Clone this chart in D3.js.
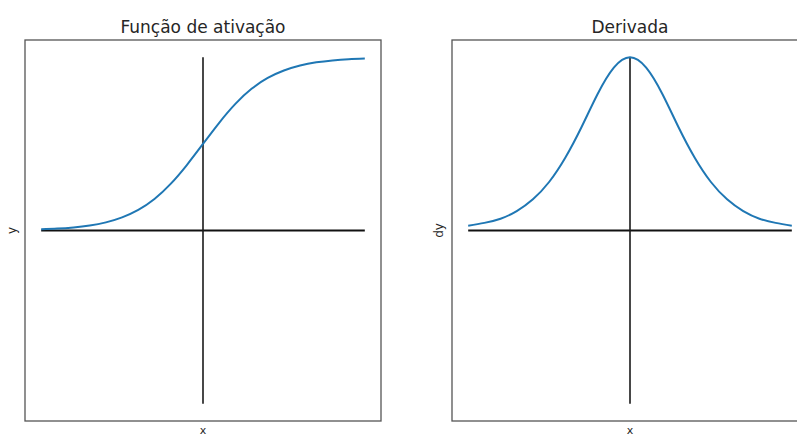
<!DOCTYPE html>
<html>
<head>
<meta charset="utf-8">
<script src="https://cdn.jsdelivr.net/npm/d3@7"></script>
<style>
html,body{margin:0;padding:0;background:#fff;}
svg{display:block;}
text{font-family:"DejaVu Sans",sans-serif;fill:#262626;}
</style>
</head>
<body>
<svg id="chart" width="797" height="437"></svg>
<script>
// ---- data ----
const xValues = [-5,-4.5,-4,-3.5,-3,-2.5,-2,-1.5,-1,-0.5,0,0.5,1,1.5,2,2.5,3,3.5,4,4.5,5];
const activationValues = [0.007,0.011,0.018,0.029,0.047,0.076,0.119,0.182,0.269,0.378,0.5,0.622,0.731,0.818,0.881,0.924,0.953,0.971,0.982,0.989,0.993];
const derivativeValues = [0.007,0.011,0.017,0.028,0.045,0.070,0.105,0.149,0.197,0.235,0.25,0.235,0.197,0.149,0.105,0.070,0.045,0.028,0.017,0.011,0.007];
const panelTitles = ["Função de ativação", "Derivada"];
const yLabels = ["y", "dy"];
const xLabel = "x";
const xAxisExtent = [-5, 5];
const yAxisExtents = [[-1, 1], [-0.25, 0.25]];
const seriesList = [activationValues, derivativeValues];

const svg = d3.select("#chart");
const panels = [
  {left: 25, right: 381},
  {left: 452, right: 808}
];
const boxTop = 40, boxBottom = 421;

panels.forEach((p, i) => {
  const xs = xAxisExtent, ys = yAxisExtents[i];
  const xPad = (xs[1]-xs[0])*0.05, yPad = (ys[1]-ys[0])*0.05;
  const x = d3.scaleLinear().domain([xs[0]-xPad, xs[1]+xPad]).range([p.left, p.right]);
  const y = d3.scaleLinear().domain([ys[0]-yPad, ys[1]+yPad]).range([boxBottom, boxTop]);
  const g = svg.append("g");

  // horizontal axis line
  g.append("line")
    .attr("x1", x(xs[0])).attr("x2", x(xs[1]))
    .attr("y1", y(0)).attr("y2", y(0))
    .attr("stroke", "#111").attr("stroke-width", 2);
  // vertical axis line
  g.append("line")
    .attr("x1", x(0)).attr("x2", x(0))
    .attr("y1", y(ys[0])).attr("y2", y(ys[1]))
    .attr("stroke", "#1a1a1a").attr("stroke-width", 1.6);

  const data = xValues.map((v, k) => [v, seriesList[i][k]]);
  g.append("path")
    .datum(data)
    .attr("fill", "none")
    .attr("stroke", "#1f77b4")
    .attr("stroke-width", 2)
    .attr("d", d3.line().x(d => x(d[0])).y(d => y(d[1])).curve(d3.curveNatural));

  // frame
  g.append("rect")
    .attr("x", p.left).attr("y", boxTop)
    .attr("width", p.right - p.left).attr("height", boxBottom - boxTop)
    .attr("fill", "none").attr("stroke", "#555").attr("stroke-width", 1.3);

  // title
  g.append("text")
    .attr("x", (p.left + p.right)/2).attr("y", boxTop - 7)
    .attr("text-anchor", "middle").attr("font-size", 17)
    .text(panelTitles[i]);
  // x label
  g.append("text")
    .attr("x", (p.left + p.right)/2).attr("y", boxBottom + 13)
    .attr("text-anchor", "middle").attr("font-size", 11)
    .text(xLabel);
  // y label
  g.append("text")
    .attr("transform", `translate(${p.left - 9},${(boxTop+boxBottom)/2}) rotate(-90)`)
    .attr("text-anchor", "middle").attr("font-size", 12)
    .text(yLabels[i]);
});
</script>
</body>
</html>
